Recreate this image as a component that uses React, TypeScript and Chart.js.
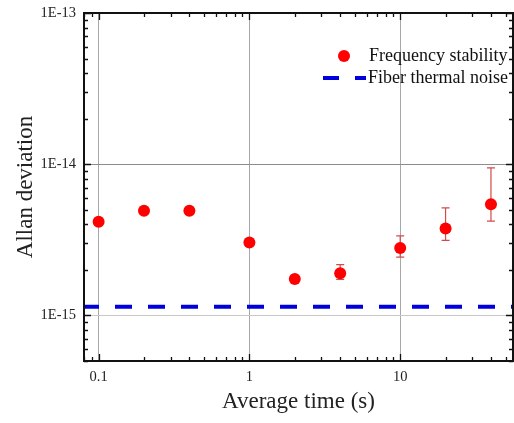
import React, { useEffect, useRef } from 'react';
import { Chart, registerables } from 'chart.js';
Chart.register(...registerables);

// ---- data ----
const averageTimes = [0.1, 0.2, 0.4, 1, 2, 4, 10, 20, 40];
const stability = [4.16e-15, 4.92e-15, 4.92e-15, 3.04e-15, 1.74e-15, 1.9e-15, 2.79e-15, 3.76e-15, 5.44e-15];
const errUpper: (number | null)[] = [null, null, null, null, null, 2.17e-15, 3.36e-15, 5.15e-15, 9.46e-15];
const errLower: (number | null)[] = [null, null, null, null, null, 1.73e-15, 2.43e-15, 3.14e-15, 4.2e-15];
const thermalNoise = 1.14e-15;
const seriesLabels = ['Frequency stability', 'Fiber thermal noise'];

const xMin = 0.08;
const xMax = 56;
const yMin = 5e-16;
const yMax = 1e-13;
const xTickValues = [0.1, 1, 10];
const xTickLabels = ['0.1', '1', '10'];
const yTickValues = [1e-15, 1e-14, 1e-13];
const yTickLabels = ['1E-15', '1E-14', '1E-13'];
const xTitle = 'Average time (s)';
const yTitle = 'Allan deviation';

const FONT = "'Liberation Serif', 'Times New Roman', serif";

function minorValues(min: number, max: number): { v: number; major: boolean }[] {
  const out: { v: number; major: boolean }[] = [];
  const e0 = Math.floor(Math.log10(min));
  const e1 = Math.ceil(Math.log10(max));
  for (let e = e0; e <= e1; e++) {
    for (let m = 1; m <= 9; m++) {
      const v = m * Math.pow(10, e);
      if (v >= min * 0.999 && v <= max * 1.001) out.push({ v, major: m === 1 });
    }
  }
  return out;
}

const framePlugin = {
  id: 'frameTicks',
  afterDraw(chart: any) {
    const { ctx, chartArea: a, scales } = chart;
    const xs = scales.x;
    const ys = scales.y;
    ctx.save();
    ctx.strokeStyle = '#111';
    ctx.lineWidth = 1.3;
    for (const t of minorValues(xMin, xMax)) {
      const px = Math.round(xs.getPixelForValue(t.v)) + 0.5;
      const len = t.major ? 7 : 4;
      ctx.beginPath();
      ctx.moveTo(px, a.bottom);
      ctx.lineTo(px, a.bottom - len);
      ctx.moveTo(px, a.top);
      ctx.lineTo(px, a.top + len);
      ctx.stroke();
    }
    for (const t of minorValues(yMin, yMax)) {
      const py = Math.round(ys.getPixelForValue(t.v)) + 0.5;
      const len = t.major ? 7 : 4;
      ctx.beginPath();
      ctx.moveTo(a.left, py);
      ctx.lineTo(a.left + len, py);
      ctx.moveTo(a.right, py);
      ctx.lineTo(a.right - len, py);
      ctx.stroke();
    }
    ctx.lineWidth = 2;
    ctx.strokeStyle = '#111';
    ctx.strokeRect(a.left, a.top, a.right - a.left, a.bottom - a.top);

    // legend
    const lx = a.left + 260;
    const ly1 = a.top + 43;
    const ly2 = a.top + 65;
    ctx.fillStyle = '#ff0000';
    ctx.beginPath();
    ctx.arc(lx, ly1, 6, 0, Math.PI * 2);
    ctx.fill();
    ctx.strokeStyle = '#0000dd';
    ctx.lineWidth = 4;
    ctx.setLineDash([16, 16]);
    ctx.beginPath();
    ctx.moveTo(lx - 21, ly2);
    ctx.lineTo(lx + 22, ly2);
    ctx.stroke();
    ctx.setLineDash([]);
    ctx.fillStyle = '#111';
    ctx.font = `18px ${FONT}`;
    ctx.textBaseline = 'middle';
    ctx.textAlign = 'left';
    ctx.fillText(seriesLabels[0], lx + 25, ly1);
    ctx.fillText(seriesLabels[1], lx + 24, ly2);
    ctx.restore();
  },
};

const errorBarPlugin = {
  id: 'errorBars',
  beforeDatasetsDraw(chart: any) {
    const { ctx, scales } = chart;
    const xs = scales.x;
    const ys = scales.y;
    ctx.save();
    ctx.strokeStyle = '#d24a4a';
    ctx.lineWidth = 1.2;
    averageTimes.forEach((t, i) => {
      const hi = errUpper[i];
      const lo = errLower[i];
      if (hi == null || lo == null) return;
      const px = xs.getPixelForValue(t);
      const pyH = ys.getPixelForValue(hi);
      const pyL = ys.getPixelForValue(lo);
      ctx.beginPath();
      ctx.moveTo(px, pyH);
      ctx.lineTo(px, pyL);
      ctx.moveTo(px - 4, pyH);
      ctx.lineTo(px + 4, pyH);
      ctx.moveTo(px - 4, pyL);
      ctx.lineTo(px + 4, pyL);
      ctx.stroke();
    });
    ctx.restore();
  },
};

export default function App() {
  const ref = useRef<HTMLCanvasElement>(null);
  useEffect(() => {
    if (!ref.current) return;
    const chart = new Chart(ref.current, {
      type: 'scatter',
      data: {
        datasets: [
          {
            type: 'line',
            label: seriesLabels[1],
            data: [
              { x: xMin, y: thermalNoise },
              { x: xMax, y: thermalNoise },
            ],
            borderColor: '#0000dd',
            borderWidth: 4,
            borderDash: [17, 16],
            borderDashOffset: 2,
            pointRadius: 0,
            fill: false,
          } as any,
          {
            type: 'scatter',
            label: seriesLabels[0],
            data: averageTimes.map((x, i) => ({ x, y: stability[i] })),
            backgroundColor: '#ff0000',
            borderWidth: 0,
            pointRadius: 6,
          },
        ],
      },
      options: {
        animation: false,
        responsive: false,
        maintainAspectRatio: false,
        layout: { autoPadding: false, padding: { top: 13, right: 1, left: 0, bottom: 0 } },
        plugins: { legend: { display: false }, tooltip: { enabled: false } },
        scales: {
          x: {
            type: 'logarithmic',
            min: xMin,
            max: xMax,
            afterBuildTicks: (s: any) => {
              s.ticks = xTickValues.map((v) => ({ value: v }));
            },
            afterFit: (s: any) => {
              s.height = 62;
              s.paddingLeft = 0;
              s.paddingRight = 0;
            },
            ticks: {
              autoSkip: false,
              maxRotation: 0,
              padding: 7,
              color: '#222',
              font: { family: FONT, size: 14.5 },
              callback: (v: any) => {
                const i = xTickValues.findIndex((t) => Math.abs(t - Number(v)) / t < 1e-6);
                return i >= 0 ? xTickLabels[i] : '';
              },
            },
            grid: { color: '#a8a8a8', lineWidth: 1, drawTicks: false, tickLength: 0 },
            border: { display: false },
            title: {
              display: true,
              text: xTitle,
              color: '#222',
              font: { family: FONT, size: 23 },
              padding: { top: 0, bottom: 7 },
            },
          },
          y: {
            type: 'logarithmic',
            min: yMin,
            max: yMax,
            afterBuildTicks: (s: any) => {
              s.ticks = yTickValues.map((v) => ({ value: v }));
            },
            afterFit: (s: any) => {
              s.width = 84;
              s.paddingTop = 0;
              s.paddingBottom = 0;
            },
            ticks: {
              autoSkip: false,
              padding: 8,
              color: '#222',
              font: { family: FONT, size: 14.5 },
              callback: (v: any) => {
                const i = yTickValues.findIndex((t) => Math.abs(t - Number(v)) / t < 1e-6);
                return i >= 0 ? yTickLabels[i] : '';
              },
            },
            grid: {
              color: (c: any) => {
                const v = c.tick ? c.tick.value : 0;
                if (Math.abs(v - 1e-15) / 1e-15 < 1e-6) return '#c8c8c8';
                return '#8c8c8c';
              },
              lineWidth: 1,
              drawTicks: false,
              tickLength: 0,
            },
            border: { display: false },
            title: {
              display: true,
              text: yTitle,
              color: '#222',
              font: { family: FONT, size: 23 },
              padding: { top: 12, bottom: 0 },
            },
          },
        },
      },
      plugins: [errorBarPlugin, framePlugin],
    } as any);
    return () => chart.destroy();
  }, []);
  return (
    <div style={{ position: 'absolute', left: 0, top: 0, width: 514, height: 423, background: '#fff' }}>
      <canvas ref={ref} width={514} height={423} />
    </div>
  );
}
